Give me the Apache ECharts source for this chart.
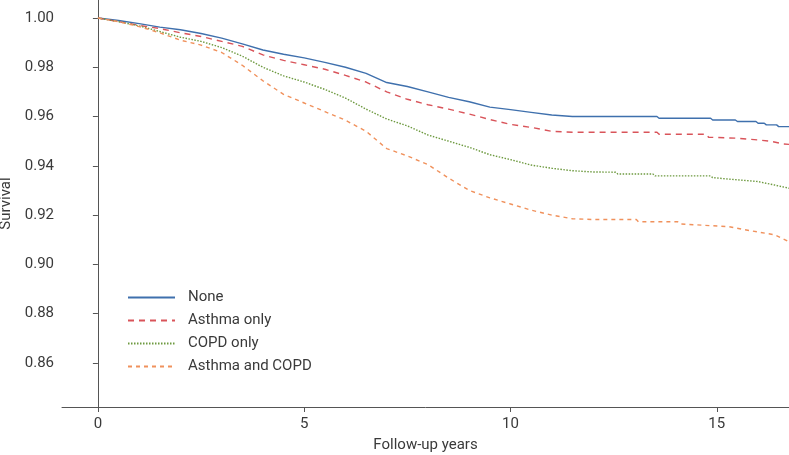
<!DOCTYPE html>
<html>
<head>
<meta charset="utf-8">
<script src="https://cdn.jsdelivr.net/npm/echarts@6/dist/echarts.min.js"></script>
<style>html,body{margin:0;padding:0;background:#fff}#c{width:789px;height:455px}</style>
</head>
<body>
<div id="c"></div>
<script>
const xTicks = [0, 5, 10, 15];
const yTicks = [0.86, 0.88, 0.90, 0.92, 0.94, 0.96, 0.98, 1.00];
const seriesNames = ['None', 'Asthma only', 'COPD only', 'Asthma and COPD'];

const noneT = [0,0.5,1,1.5,2,2.5,3,3.5,4,4.5,5,5.5,6,6.5,7,7.5,8,8.5,9,9.5,10,10.5,11,11.5,13.55,13.6,14.85,14.9,15.45,15.5,15.95,16,16.15,16.2,16.45,16.5,16.75];
const noneS = [1.000,0.9990,0.9977,0.9963,0.9952,0.9937,0.9918,0.9895,0.9870,0.9853,0.9838,0.9820,0.9800,0.9775,0.9738,0.9722,0.9700,0.9678,0.9660,0.9638,0.9628,0.9617,0.9606,0.9600,0.9600,0.9593,0.9593,0.9586,0.9586,0.9580,0.9580,0.9573,0.9573,0.9566,0.9566,0.9559,0.9559];

const asthmaT = [0,0.5,1,1.5,2,2.5,3,3.5,4,4.5,5,5.5,6,6.5,7,7.5,8,8.5,9,9.5,10,10.5,11,11.5,13.55,13.6,14.75,14.8,15.5,16,16.3,16.6,16.75];
const asthmaS = [1.000,0.9985,0.9970,0.9957,0.9940,0.9925,0.9905,0.9885,0.9850,0.9828,0.9810,0.9792,0.9767,0.9740,0.9700,0.9670,0.9648,0.9630,0.9610,0.9588,0.9568,0.9556,0.9540,0.9536,0.9536,0.9528,0.9528,0.9516,0.9512,0.9505,0.9500,0.9489,0.9487];

const copdT = [0,0.5,1,1.5,2,2.5,3,3.5,4,4.5,5,5.5,6,6.5,7,7.5,8,8.5,9,9.5,10,10.5,11,11.5,12,12.55,12.6,13.45,13.5,14.85,14.9,15.5,16,16.4,16.75];
const copdS = [1.000,0.9985,0.9968,0.9945,0.9922,0.9905,0.9880,0.9845,0.9800,0.9765,0.9740,0.9710,0.9675,0.9630,0.9590,0.9562,0.9525,0.9500,0.9475,0.9445,0.9425,0.9403,0.9390,0.9380,0.9375,0.9374,0.9367,0.9367,0.9359,0.9359,0.9352,0.9343,0.9336,0.9322,0.9309];

const bothT = [0,0.5,1,1.5,2,2.5,3,3.5,4,4.5,5,5.5,6,6.5,7,7.5,8,8.5,9,9.5,10,10.5,11,11.5,12,13.05,13.1,14.05,14.1,15.3,15.8,16.4,16.75];
const bothS = [1.000,0.9985,0.9965,0.9940,0.9910,0.9890,0.9860,0.9808,0.9745,0.9690,0.9655,0.9620,0.9585,0.9540,0.9470,0.9440,0.9405,0.9350,0.9300,0.9270,0.9245,0.9220,0.9200,0.9185,0.9182,0.9182,0.9173,0.9173,0.9164,0.9153,0.9137,0.9120,0.9092];

const pairs = (t, s) => t.map((v, i) => [v, s[i]]);
const styles = [
  {color:'#3f70ad', type:'solid', width:1.4},
  {color:'#d9545a', type:[6,5], width:1.4},
  {color:'#6e9a40', type:[1.5,1.5], width:1.4},
  {color:'#f0915c', type:[4,4], width:1.4}
];
const dataSets = [pairs(noneT,noneS), pairs(asthmaT,asthmaS), pairs(copdT,copdS), pairs(bothT,bothS)];
const font = 'Roboto, "Liberation Sans", sans-serif';
const txt = '#3a3a3a';

const chart = echarts.init(document.getElementById('c'), null, {renderer:'canvas'});
chart.setOption({
  animation: false,
  backgroundColor: '#fff',
  grid: {left: 62, right: 0, top: 0, bottom: 48, outerBoundsMode: 'none', containLabel: false},
  legend: {
    orient: 'vertical', left: 122, top: 285, itemWidth: 47, itemHeight: 14, itemGap: 8,
    data: seriesNames,
    itemStyle: {opacity: 0},
    textStyle: {fontFamily: font, fontSize: 15, color: txt, padding: [0,0,0,8]}
  },
  xAxis: {
    type: 'value', min: -0.87, max: 16.75,
    name: 'Follow-up years', nameLocation: 'middle', nameGap: 31,
    nameTextStyle: {fontFamily: font, fontSize: 15, color: txt},
    axisLine: {show: true, lineStyle: {color: '#555', width: 1}},
    axisTick: {show: true, length: 5, lineStyle: {color: '#555'}, customValues: xTicks},
    axisLabel: {fontFamily: font, fontSize: 15, color: txt, margin: 10, customValues: xTicks},
    splitLine: {show: false}
  },
  yAxis: {
    type: 'value', min: 0.8421, max: 1.0073,
    name: 'Survival', nameLocation: 'middle', nameGap: 40,
    nameTextStyle: {fontFamily: font, fontSize: 15, color: txt},
    axisLine: {show: true, lineStyle: {color: '#555', width: 1}},
    axisTick: {show: true, length: 5, lineStyle: {color: '#555'}, customValues: yTicks},
    axisLabel: {fontFamily: font, fontSize: 15, color: txt, margin: 8, customValues: yTicks,
      formatter: v => v.toFixed(2)},
    splitLine: {show: false}
  },
  series: seriesNames.map((n, i) => ({
    name: n, type: 'line', symbol: 'none', showSymbol: false,
    data: dataSets[i],
    lineStyle: styles[i], itemStyle: {color: styles[i].color}
  }))
});
</script>
</body>
</html>
